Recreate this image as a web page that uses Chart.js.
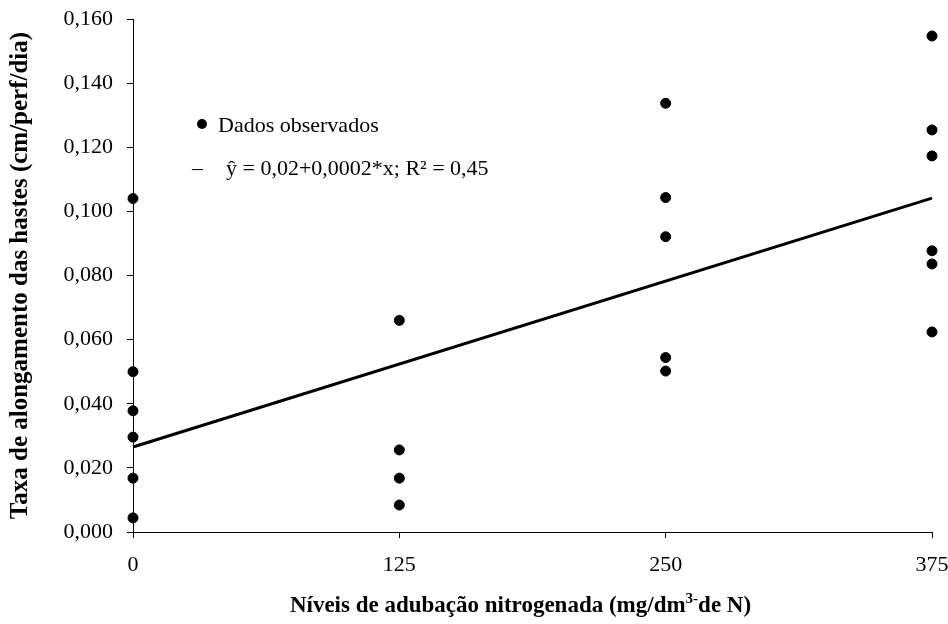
<!DOCTYPE html>
<html>
<head>
<meta charset="utf-8">
<script src="https://cdn.jsdelivr.net/npm/chart.js@4.4.1/dist/chart.umd.min.js"></script>
<style>
  html, body { margin: 0; padding: 0; background: #ffffff; }
  #grafico { display: block; }
</style>
</head>
<body>
<canvas id="grafico" width="948" height="624"></canvas>
<script>
// Níveis de N (mg/dm3) e taxas observadas em cada nível
const niveis = [0, 125, 250, 375];
const taxaN0 = [0.104, 0.050, 0.0378, 0.0296, 0.0168, 0.0044];
const taxaN125 = [0.066, 0.0256, 0.0168, 0.0084];
const taxaN250 = [0.1337, 0.1043, 0.0921, 0.0544, 0.0502];
const taxaN375 = [0.1547, 0.1254, 0.1173, 0.0877, 0.0836, 0.0624];

// Reta ajustada
const intercepto = 0.0265;
const inclinacao = 0.000207;

const legendaPontos = "Dados observados";
const legendaReta = "ŷ = 0,02+0,0002*x; R² = 0,45";

const fonte = "'Liberation Serif', 'Times New Roman', serif";

// monta os pares (x, y) a partir dos grupos
const grupos = [taxaN0, taxaN125, taxaN250, taxaN375];
const pontos = [];
grupos.forEach((grupo, i) => {
    grupo.forEach((v) => pontos.push({ x: niveis[i], y: v }));
});

const reta = [niveis[0], niveis[niveis.length - 1]].map((x) => ({
    x: x,
    y: intercepto + inclinacao * x,
}));

// Legenda e título do eixo X desenhados à mão (tem sobrescrito)
const extras = {
    id: "extras",
    afterDraw(chart) {
        const ctx = chart.ctx;
        const area = chart.chartArea;
        ctx.save();
        ctx.fillStyle = "#000";
        ctx.strokeStyle = "#000";

        // legenda
        ctx.font = "22px " + fonte;
        ctx.textBaseline = "middle";
        ctx.textAlign = "left";
        ctx.beginPath();
        ctx.arc(202, 124, 5, 0, Math.PI * 2);
        ctx.fill();
        ctx.fillText(legendaPontos, 218, 126);
        ctx.fillText("–", 192, 169);
        ctx.fillText(legendaReta, 226, 169);

        // título do eixo X
        const parte1 = "Níveis de adubação nitrogenada (mg/dm";
        const sup = "3-";
        const parte2 = "de N)";
        ctx.font = "bold 23px " + fonte;
        const w1 = ctx.measureText(parte1).width;
        const w3 = ctx.measureText(parte2).width;
        ctx.font = "bold 15px " + fonte;
        const w2 = ctx.measureText(sup).width;
        const total = w1 + w2 + w3;
        let x = (area.left + area.right) / 2 - total / 2 - 12;
        const y = 612;
        ctx.textBaseline = "alphabetic";
        ctx.font = "bold 23px " + fonte;
        ctx.fillText(parte1, x, y);
        x += w1;
        ctx.font = "bold 15px " + fonte;
        ctx.fillText(sup, x, y - 9);
        x += w2;
        ctx.font = "bold 23px " + fonte;
        ctx.fillText(parte2, x, y);
        ctx.restore();
    },
};

const ctx = document.getElementById("grafico").getContext("2d");
new Chart(ctx, {
    type: "scatter",
    data: {
        datasets: [
            {
                label: legendaPontos,
                data: pontos,
                backgroundColor: "#000",
                borderColor: "#000",
                pointRadius: 5,
                pointHoverRadius: 5,
                clip: false,
            },
            {
                label: legendaReta,
                type: "line",
                data: reta,
                borderColor: "#000",
                borderWidth: 3,
                pointRadius: 0,
                fill: false,
                clip: false,
            },
        ],
    },
    options: {
        responsive: false,
        animation: false,
        events: [],
        layout: { padding: { top: 19, right: 16, left: 0, bottom: 0 } },
        plugins: {
            legend: { display: false },
            tooltip: { enabled: false },
        },
        scales: {
            x: {
                type: "linear",
                min: 0,
                max: 375,
                afterFit: (s) => { s.height = 92; s.paddingRight = 0; s.paddingLeft = 0; },
                afterBuildTicks: (s) => { s.ticks = niveis.map((v) => ({ value: v })); },
                grid: { drawOnChartArea: false, color: "#000", tickLength: 6 },
                border: { color: "#000", width: 1 },
                ticks: {
                    color: "#000",
                    padding: 14,
                    maxRotation: 0,
                    font: { family: fonte, size: 22 },
                },
            },
            y: {
                min: 0,
                max: 0.16,
                afterFit: (s) => { s.width = 133; s.paddingTop = 0; },
                grid: { drawOnChartArea: false, color: "#000", tickLength: 6 },
                border: { color: "#000", width: 1 },
                ticks: {
                    stepSize: 0.02,
                    color: "#000",
                    padding: 14,
                    font: { family: fonte, size: 22, lineHeight: 1 },
                    callback: (v) => v.toFixed(3).replace(".", ","),
                },
                title: {
                    display: true,
                    text: "Taxa de alongamento das hastes (cm/perf/dia)",
                    color: "#000",
                    padding: { top: 6, bottom: 0 },
                    font: { family: fonte, size: 25, weight: "bold" },
                },
            },
        },
    },
    plugins: [extras],
});
</script>
</body>
</html>
